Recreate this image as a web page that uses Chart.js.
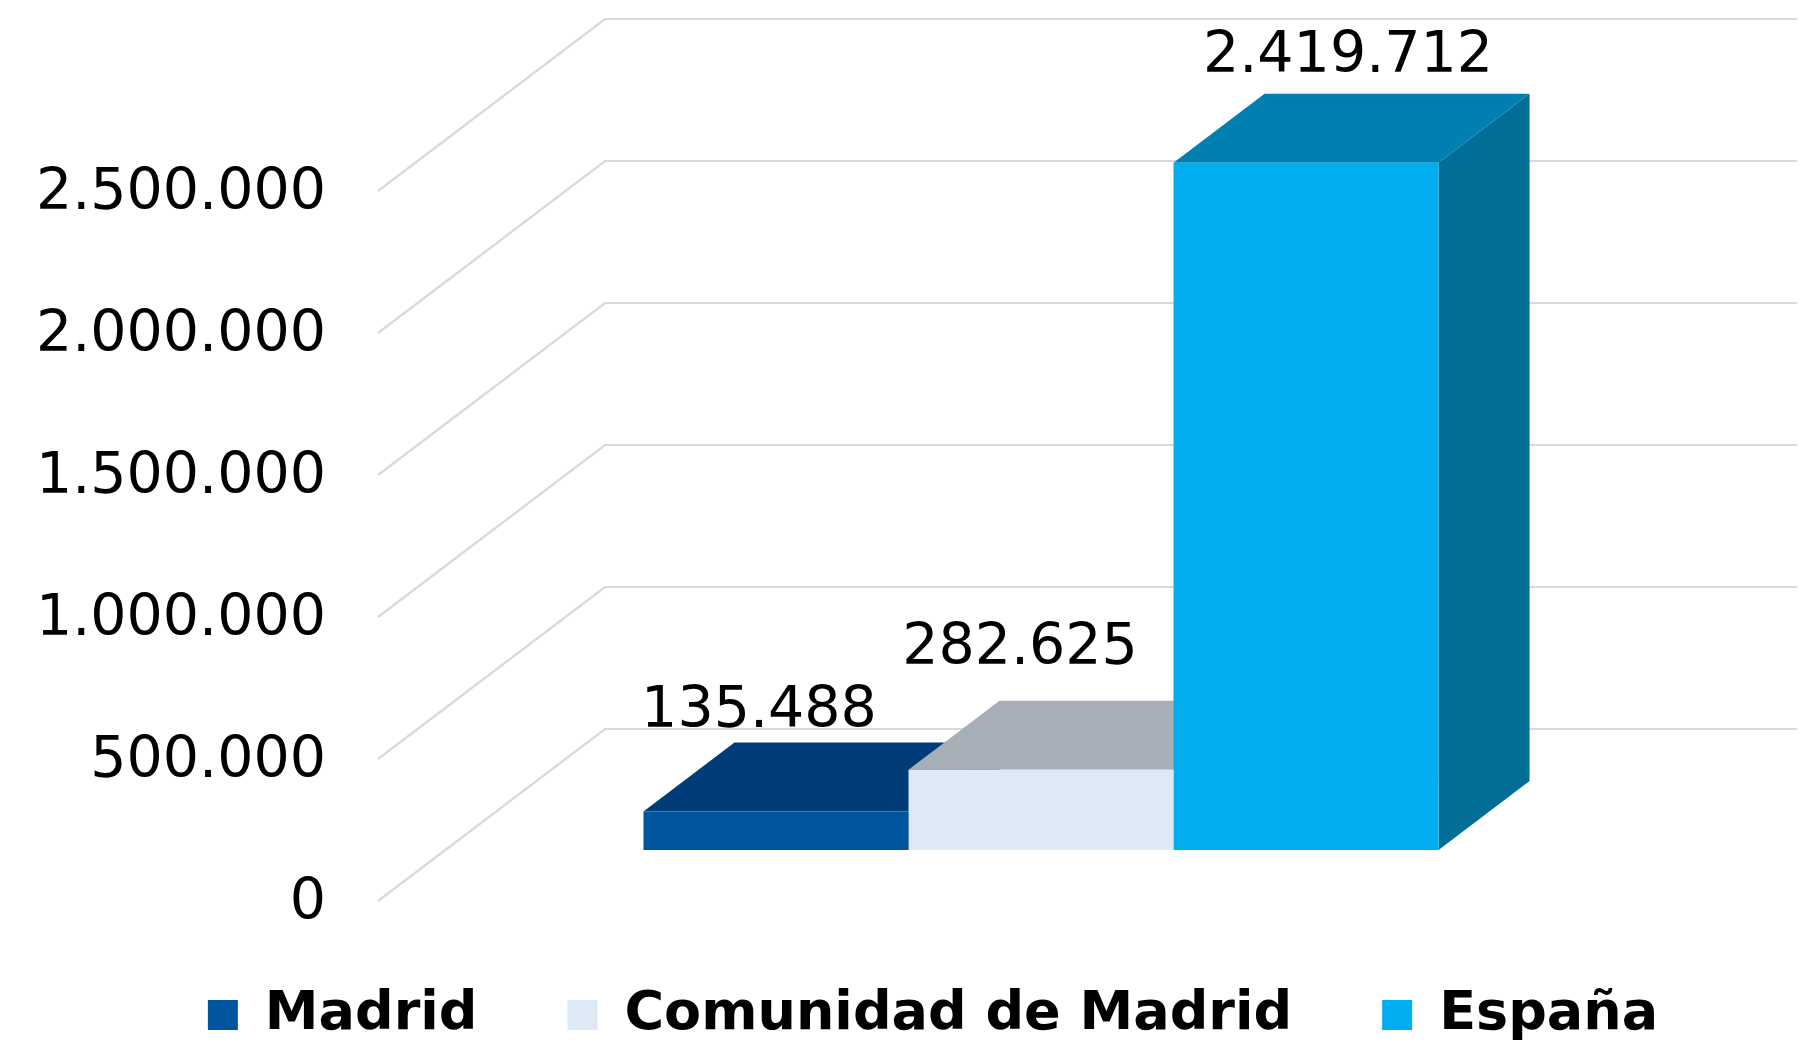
<!DOCTYPE html>
<html>
<head>
<meta charset="utf-8">
<script src="https://cdn.jsdelivr.net/npm/chart.js@4.4.1/dist/chart.umd.min.js"></script>
<style>
  html, body { margin: 0; padding: 0; background: #fff; }
  #wrap { width: 1806px; height: 1044px; }
</style>
</head>
<body>
<div id="wrap"><canvas id="chart" width="1806" height="1044"></canvas></div>
<script>
const categories = [""];
const seriesNames = ["Madrid", "Comunidad de Madrid", "España"];
const seriesValues = [135488, 282625, 2419712];
const yTicks = [0, 500000, 1000000, 1500000, 2000000, 2500000];

const frontColors = ["#00559F", "#DDEAF5", "#00AEEF"];
const topColors = ["#003C78", "#A6AFB8", "#0080B1"];
const sideColors = ["#003068", "#8E98A3", "#006E96"];

const FONT = "'DejaVu Sans', Verdana, sans-serif";
const fmt = (v) => String(v).replace(/\B(?=(\d{3})+(?!\d))/g, ".");

// fake 3D: offsets from the bar plane (where chart.js puts the bars)
const wall = { frontDx: -67, frontDy: 51, backDx: 160, backDy: -121 };
const barDepth = { dx: 91, dy: -69 };
// excel put the value labels a bit differently on each bar
const labelShift = [[-17, -30], [-21, -52], [42, -37]];

function poly(ctx, pts, color) {
  ctx.beginPath();
  ctx.moveTo(pts[0][0], pts[0][1]);
  for (const p of pts.slice(1)) ctx.lineTo(p[0], p[1]);
  ctx.closePath();
  ctx.fillStyle = color;
  ctx.fill();
}

const bars3d = {
  id: "bars3d",
  beforeDatasetsDraw(chart) {
    const { ctx, chartArea, scales: { y } } = chart;
    ctx.save();
    // walls: diagonal on the left side, horizontal on the back
    ctx.strokeStyle = "#D9D9D9";
    ctx.lineWidth = 2.2;
    for (const t of y.ticks) {
      const yb = y.getPixelForValue(t.value);
      const bx = chartArea.left + wall.backDx, by = yb + wall.backDy;
      ctx.beginPath();
      ctx.moveTo(chartArea.left + wall.frontDx, yb + wall.frontDy);
      ctx.lineTo(bx, by);
      ctx.lineTo(chartArea.right + wall.backDx, by);
      ctx.stroke();
    }
    // top and side faces, left to right so later bars hide earlier ones
    chart.data.datasets.forEach((ds, i) => {
      const bar = chart.getDatasetMeta(i).data[0];
      if (!bar) return;
      const l = bar.x - bar.width / 2, r = bar.x + bar.width / 2;
      const top = bar.y, base = bar.base;
      const { dx, dy } = barDepth;
      poly(ctx, [[l, top], [r, top], [r + dx, top + dy], [l + dx, top + dy]], ds.topColor);
      poly(ctx, [[r, top], [r + dx, top + dy], [r + dx, base + dy], [r, base]], ds.sideColor);
    });
    ctx.restore();
  },
  afterDatasetsDraw(chart) {
    const { ctx } = chart;
    ctx.save();
    ctx.font = "57px " + FONT;
    ctx.fillStyle = "#000";
    ctx.textAlign = "center";
    ctx.textBaseline = "middle";
    chart.data.datasets.forEach((ds, i) => {
      const bar = chart.getDatasetMeta(i).data[0];
      const [sx, sy] = labelShift[i];
      ctx.fillText(fmt(ds.data[0]), bar.x + sx, bar.y + barDepth.dy + sy);
    });
    ctx.restore();
  },
};

new Chart(document.getElementById("chart"), {
  type: "bar",
  data: {
    labels: categories,
    datasets: seriesNames.map((name, i) => ({
      label: name,
      data: [seriesValues[i]],
      backgroundColor: frontColors[i],
      borderWidth: 0,
      topColor: topColors[i],
      sideColor: sideColors[i],
      categoryPercentage: 0.667,
      barPercentage: 1.0,
    })),
  },
  options: {
    responsive: false,
    animation: false,
    devicePixelRatio: 1,
    // negative right padding so the legend centres where excel had it
    layout: { padding: { left: 0, right: -60, top: 140, bottom: -8 } },
    plugins: {
      legend: {
        position: "bottom",
        labels: {
          color: "#000",
          font: { family: FONT, size: 54, weight: "bold" },
          boxWidth: 30,
          boxHeight: 30,
          padding: 90,
        },
      },
      tooltip: { enabled: false },
    },
    scales: {
      x: {
        grid: { display: false, drawTicks: true, tickLength: 48 },
        border: { display: false },
        ticks: { display: false },
      },
      y: {
        min: 0,
        max: 2500000,
        afterBuildTicks: (s) => { s.ticks = yTicks.map(v => ({ value: v })); },
        afterFit: (s) => { s.width = 445; },
        grid: { display: false, drawTicks: true, tickLength: 109 },
        border: { display: false },
        ticks: {
          padding: 10,
          labelOffset: 54,
          color: "#000",
          font: { family: FONT, size: 57 },
          callback: (v) => fmt(v),
        },
      },
      // empty axis, only reserves room on the right for the back wall
      yRight: {
        axis: "y",
        position: "right",
        afterFit: (s) => { s.width = 229; },
        grid: { display: false, drawTicks: false },
        border: { display: false },
        ticks: { display: false },
      },
    },
  },
  plugins: [bars3d],
});
</script>
</body>
</html>
